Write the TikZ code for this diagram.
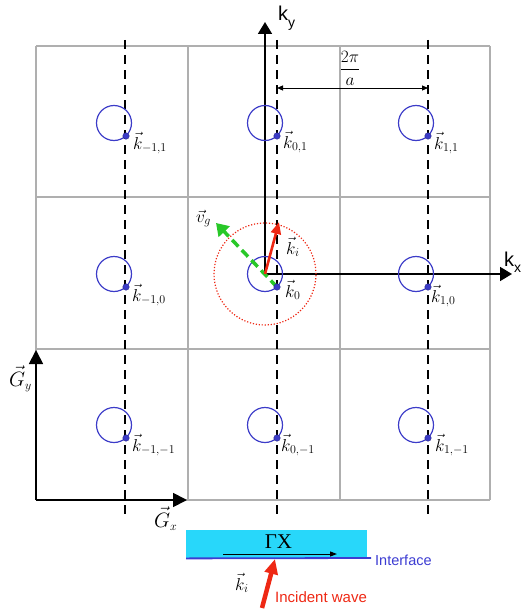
\documentclass[tikz,border=0pt]{standalone}
\usepackage{fontspec}
\setmainfont{Liberation Serif}
\newfontfamily\arialf{Liberation Sans}
\DeclareMathSizes{19}{19}{12.5}{9}
\DeclareMathSizes{21}{21}{13}{10}
\usetikzlibrary{arrows.meta,calc}
\definecolor{gridgray}{RGB}{175,175,175}
\definecolor{circblue}{RGB}{60,60,200}
\definecolor{redarrow}{RGB}{238,40,20}
\definecolor{greenarrow}{RGB}{40,200,40}
\definecolor{cyanbox}{RGB}{40,215,250}
\definecolor{ifaceblue}{RGB}{60,60,210}
\begin{document}
\begin{tikzpicture}[x=1pt,y=-1pt,
  gridline/.style={draw=gridgray,line width=1.3pt},
  dashline/.style={draw=black,line width=2.2pt,dash pattern=on 9pt off 6pt},
  axis/.style={draw=black,line width=1.8pt,-{Triangle[length=12pt,width=14pt]}},
  bz/.style={draw=circblue,line width=1.2pt},
  kdot/.style={circle,fill=circblue,draw=circblue!70!black,line width=0.4pt,inner sep=0pt,minimum size=6.5pt},
  klabel/.style={anchor=base west,inner sep=0pt,font=\fontsize{19}{22}\selectfont},
  glabel/.style={anchor=base west,inner sep=0pt,font=\fontsize{21}{24}\selectfont},
  sanslabel/.style={inner sep=0pt,font=\arialf\fontsize{20}{22}\selectfont},
  smallarrow/.style={draw=black,line width=1pt,-{Triangle[length=7pt,width=5pt]}},
]
\useasboundingbox (0,0) rectangle (522,610);
% grid
\foreach \gx in {36,188,340,490} \draw[gridline] (\gx,46) -- (\gx,500);
\foreach \gy in {46,197,349,500} \draw[gridline] (36,\gy) -- (490,\gy);
% dashed lines
\foreach \n/\x in {A/125,B/277,C/428}{
  \coordinate (dt\n) at (\x,40);
  \coordinate (db\n) at (\x,515);
  \draw[dashline] (dt\n) -- (db\n);
}
% k axes
\coordinate (O) at (265,274);
\coordinate (kytip) at (265,22);
\coordinate (kxtip) at (512,274);
\draw[axis] (O) -- (kytip);
\draw[axis] (O) -- (kxtip);
\node[sanslabel,anchor=west] (kylab) at (278,18) {k\raisebox{-0.35em}{\fontsize{14}{14}\selectfont y}};
\node[sanslabel,anchor=west] (kxlab) at (504,262) {k\raisebox{-0.3em}{\fontsize{14}{14}\selectfont x}};
% lattice circles
\foreach \i/\x in {a/114,b/265,c/416}{
  \foreach \j/\y in {t/123,m/274,b/425}{
    \coordinate (c\i\j) at (\x,\y);
    \draw[bz] (c\i\j) circle[radius=17.5pt];
  }
}
% red dotted circle
\draw[draw=redarrow,line width=1.2pt,dash pattern=on 1.2pt off 1.8pt] (cbm) circle[radius=51pt];
% group velocity
\coordinate (vgtip) at (216,223);
\coordinate (vgstart) at (277,287);
\draw[draw=greenarrow,line width=3.5pt,dash pattern=on 9pt off 5pt,-{Triangle[length=12pt,width=15pt]}] (vgstart) -- (vgtip);
\node[klabel] (vglab) at (196,222) {$\vec{v}_g$};
% incident k
\coordinate (kitip) at (279,222);
\draw[draw=redarrow,line width=2.6pt,-{Triangle[length=12pt,width=10pt]}] (O) -- (kitip);
\node[klabel] (kilab) at (286,254) {$\vec{k}_i$};
% dots
\foreach \i/\x in {a/114,b/265,c/416}{
  \foreach \j/\y in {t/123,m/274,b/425}{
    \node[kdot] (d\i\j) at ($(c\i\j)+(12,13)$) {};
  }
}
\node[klabel] (lat) at ($(dat)+(7,13)$) {$\vec{k}_{-1,1}$};
\node[klabel] (lbt) at ($(dbt)+(6,12)$) {$\vec{k}_{0,1}$};
\node[klabel] (lct) at ($(dct)+(6,13)$) {$\vec{k}_{1,1}$};
\node[klabel] (lam) at ($(dam)+(6,14)$) {$\vec{k}_{-1,0}$};
\node[klabel] (lbm) at ($(dbm)+(8,10)$) {$\vec{k}_{0}$};
\node[klabel] (lcm) at ($(dcm)+(3,15)$) {$\vec{k}_{1,0}$};
\node[klabel] (lab) at ($(dab)+(6,13)$) {$\vec{k}_{-1,-1}$};
\node[klabel] (lbb) at ($(dbb)+(4,13)$) {$\vec{k}_{0,-1}$};
\node[klabel] (lcb) at ($(dcb)+(7,13)$) {$\vec{k}_{1,-1}$};
% 2pi/a dimension
\coordinate (dimL) at (277,88);
\coordinate (dimR) at (428,88);
\draw[draw=black,line width=1pt,{Triangle[length=6pt,width=5pt]}-{Triangle[length=6pt,width=5pt]}] (dimL) -- (dimR);
\node[anchor=south,inner sep=0pt,font=\fontsize{19}{22}\selectfont] (dimlab) at (350,86) {$\displaystyle\frac{2\pi}{a}$};
% G axes
\coordinate (Go) at (36,500);
\coordinate (Gytip) at (36,350);
\coordinate (Gxtip) at (187,500);
\draw[axis,-{Triangle[length=14pt,width=14pt]}] (Go) -- (Gytip);
\draw[axis,-{Triangle[length=14pt,width=14pt]}] (Go) -- (Gxtip);
\node[glabel] (gylab) at (9,386) {$\vec{G}_y$};
\node[glabel] (gxlab) at (154,527) {$\vec{G}_x$};
% interface
\node[fill=cyanbox,minimum width=181pt,minimum height=28pt,inner sep=0pt,anchor=north west] (box) at (186,530) {};
\coordinate (ifR) at (371,558);
\draw[draw=ifaceblue,line width=1.8pt] (box.south west) -- (ifR);
\node[inner sep=0pt,font=\fontsize{21}{24}\selectfont] (gxtext) at (278.5,542) {ΓX};
\coordinate (gxa) at (223,554);
\coordinate (gxb) at (337,554);
\draw[smallarrow] (gxa) -- (gxb);
\node[anchor=west,inner sep=0pt,text=ifaceblue,font=\arialf\fontsize{14.5}{17}\selectfont] (iftext) at (375,560) {Interface};
% incident wave
\coordinate (incS) at (262,608);
\coordinate (incT) at (275,559);
\draw[draw=redarrow,line width=4.5pt,-{Triangle[length=15pt,width=13pt]}] (incS) -- (incT);
\node[klabel] (kilab2) at (235,590) {$\vec{k}_i$};
\node[anchor=west,inner sep=0pt,text=redarrow,font=\arialf\fontsize{15}{18}\selectfont] (inctext) at (275,597) {Incident wave};
\end{tikzpicture}
\end{document}
